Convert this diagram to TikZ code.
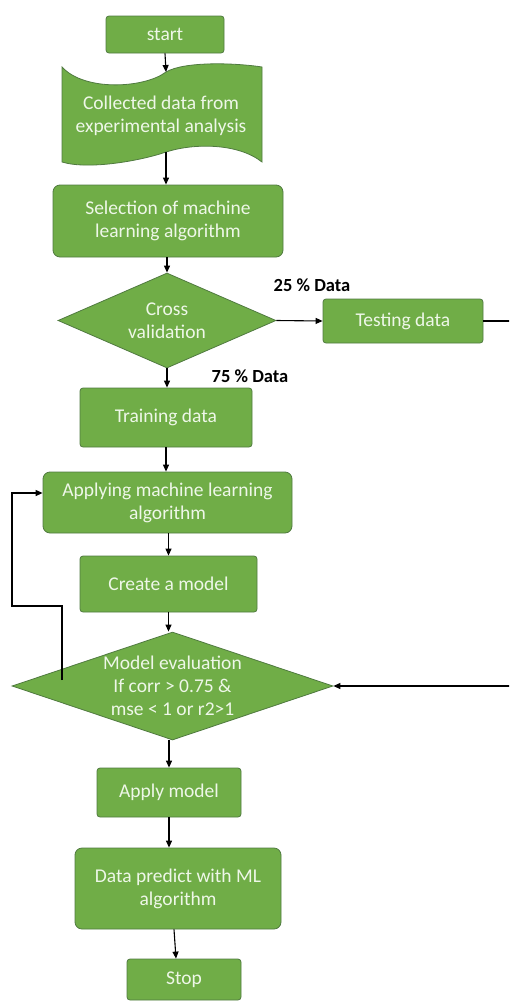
\documentclass[tikz,border=0pt]{standalone}
\usepackage{fontspec}
\setmainfont{Carlito}
\usetikzlibrary{arrows.meta,positioning,shapes.geometric,calc}
\definecolor{fGreen}{RGB}{112,173,71}
\definecolor{fEdge}{RGB}{80,122,64}
\definecolor{fText}{RGB}{238,247,232}
\tikzset{
  box/.style={draw=fEdge, line width=0.8pt, fill=fGreen, text=fText, rounded corners=3pt,
    align=center, inner sep=0pt, font=\fontsize{19.5}{23}\selectfont},
  decision/.style={diamond, draw=fEdge, line width=0.8pt, fill=fGreen, text=fText,
    align=center, inner sep=0pt, font=\fontsize{19.5}{23}\selectfont},
  flow/.style={draw, line width=1.1pt, -{Triangle[length=7pt,width=6pt]}},
  pct/.style={font=\bfseries\fontsize{18.5}{22}\selectfont}
}
\begin{document}
\begin{tikzpicture}[x=1pt, y=-1pt]
    \useasboundingbox (0,0) rectangle (509,1001);
    \clip (0,0) rectangle (509,1001);
    % main column
    \node[box, minimum width=118, minimum height=37] (start) at (165,34.5) {start};
    % wavy data shape, drawn directly
    \draw[draw=fEdge, line width=0.8pt, fill=fGreen]
      (62,67) .. controls (85,92) and (145,88) .. (166,72) .. controls (185,61) and (236,63) .. (262,67)
      -- (262,162) .. controls (238,143) and (194,143) .. (166,152) .. controls (140,161) and (88,170) .. (62,162) -- cycle;
    \node[box, draw=none, fill=none, minimum width=200, minimum height=96] (collect) at (161,116)
      {Collected data from\\experimental analysis};
    \coordinate (collecttop) at (166,72);
    \coordinate (collectbot) at (166,152);
    \node[box, rounded corners=7pt, minimum width=230, minimum height=72] (select) at (168,221)
      {Selection of machine\\learning algorithm};
    \node[decision, aspect=2.3, minimum width=218, minimum height=95] (cross) at (167,320.5)
      {Cross\\validation};
    \node[box, minimum width=160, minimum height=44] (testing) at (403,321) {Testing data};
    \node[box, minimum width=172, minimum height=59] (training) at (166,417.5) {Training data};
    \node[box, rounded corners=7pt, minimum width=249, minimum height=61] (applying) at (167.5,502.5)
      {Applying machine learning\\algorithm};
    \node[box, minimum width=177, minimum height=56] (create) at (168.5,584) {Create a model};
    \node[decision, aspect=2.97, minimum width=321, minimum height=108] (evaluation) at (172.5,686)
      {Model evaluation\\If corr > 0.75 \&\\mse < 1 or r2>1};
    \node[box, minimum width=144, minimum height=49] (apply) at (169,792.5) {Apply model};
    \node[box, rounded corners=7pt, minimum width=206, minimum height=81] (predict) at (178,888.5)
      {Data predict with ML\\algorithm};
    \node[box, minimum width=114, minimum height=41] (stop) at (184,979.5) {Stop};
    % split labels
    \node[pct] (split25) at (312,285) {25 \% Data};
    \node[pct] (split75) at (250,376) {75 \% Data};
    % connectors
    \draw[flow] (start.south) -- (collecttop);
    \draw[flow] (collectbot) -- (collectbot |- select.north);
    \draw[flow] (cross.north |- select.south) -- (cross.north);
    \draw[flow] (cross.east) -- (testing.west);
    \draw[flow] (cross.south) -- (cross.south |- training.north);
    \draw[flow] (training.south) -- (training.south |- applying.north);
    \draw[flow] (create.north |- applying.south) -- (create.north);
    \draw[flow] (create.south) -- (create.south |- evaluation.north);
    \draw[flow] (apply.north |- evaluation.south) -- (apply.north);
    \draw[flow] (apply.south) -- (apply.south |- predict.north);
    \draw[flow] ([xshift=-4pt]predict.south) -- ([xshift=-8pt]stop.north);
    % testing data back to evaluation (runs past the right edge)
    \draw[flow] (testing.east) -- ++(40,0) |- (evaluation.east);
    % retrain loop
    \coordinate (loopstart) at (62,680);
    \coordinate (loopturn) at (12,606);
    \draw[flow] (loopstart) |- (loopturn) |- ([yshift=9.5pt]applying.west);
\end{tikzpicture}
\end{document}
